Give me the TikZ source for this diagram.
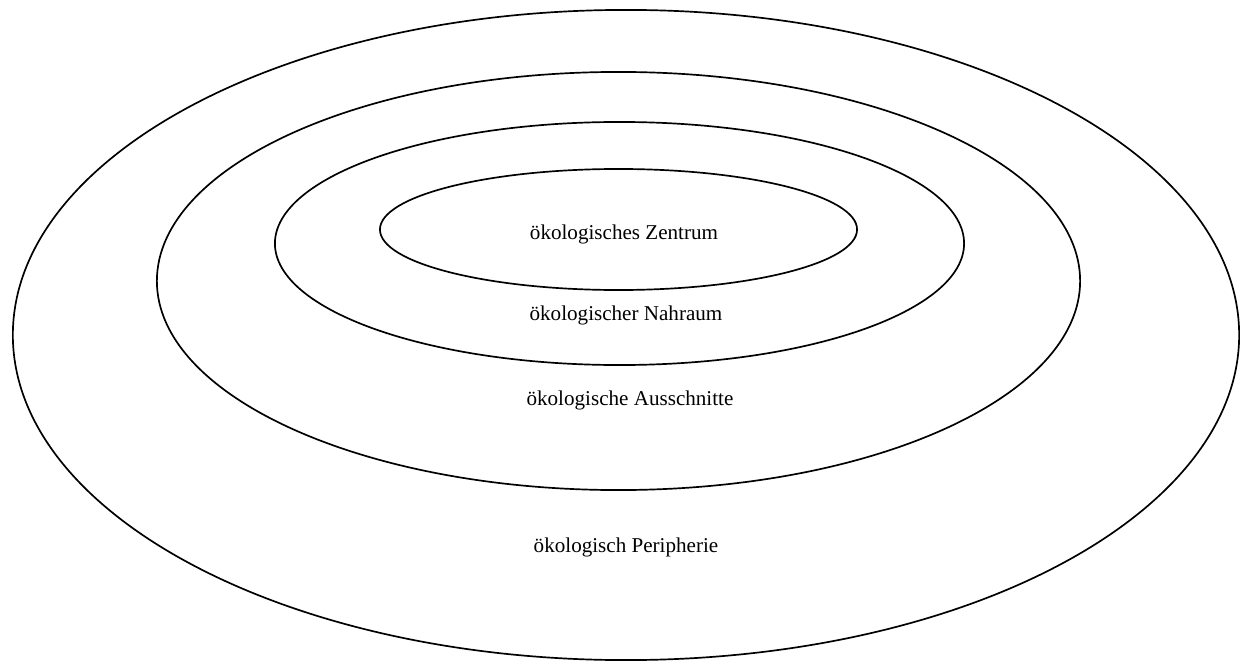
\documentclass[tikz,border=0pt]{standalone}
\usepackage{fontspec}
\setmainfont{Liberation Serif}
\usepackage{tikz}

\begin{document}
\begin{tikzpicture}[x=0.025cm, y=-0.025cm]
\tikzset{ring/.style={line width=1.2pt}, lbl/.style={anchor=base, font=\fontsize{15}{18}\selectfont}}

% Frame (keeps the margins of the picture)
\useasboundingbox (0,0) rectangle (1240,663);

% Rings, from outside to inside
\draw[ring] (626,335) ellipse [x radius=15.325cm, y radius=8.125cm];
\draw[ring] (618.5,281) ellipse [x radius=11.5375cm, y radius=5.225cm];
\draw[ring] (619.5,243.5) ellipse [x radius=8.6125cm, y radius=3.0375cm];
\draw[ring] (618.5,229.5) ellipse [x radius=5.9625cm, y radius=1.5125cm];

% Labels
\node[lbl] (zentrum) at (624,239) {ökologisches Zentrum};
\node[lbl] (nahraum) at (626,320) {ökologischer Nahraum};
\node[lbl] (ausschnitte) at (630,405) {ökologische Ausschnitte};
\node[lbl] (peripherie) at (626,552) {ökologisch Peripherie};

\end{tikzpicture}
\end{document}
